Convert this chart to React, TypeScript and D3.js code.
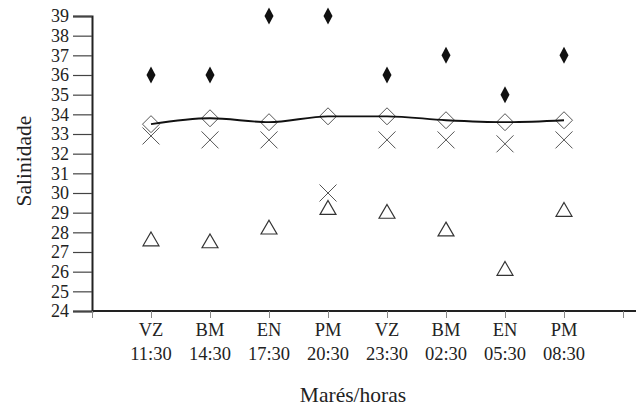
import React, { useEffect, useRef } from 'react';
import * as d3 from 'd3';

const tides = ['VZ', 'BM', 'EN', 'PM', 'VZ', 'BM', 'EN', 'PM'];
const hours = ['11:30', '14:30', '17:30', '20:30', '23:30', '02:30', '05:30', '08:30'];
const maxValues = [36, 36, 39, 39, 36, 37, 35, 37];
const meanValues = [33.5, 33.8, 33.6, 33.9, 33.9, 33.7, 33.6, 33.7];
const crossValues = [32.9, 32.7, 32.7, 30.0, 32.7, 32.7, 32.5, 32.7];
const minValues = [27.6, 27.5, 28.2, 29.2, 29.0, 28.1, 26.1, 29.1];
const yTicks = d3.range(24, 40);

const App = () => {
    const svgRef = useRef<SVGSVGElement>(null);

    useEffect(() => {
        const svg = d3.select(svgRef.current);
        svg.selectAll('*').remove();

        const font = '"Liberation Serif", "Times New Roman", serif';
        const left = 92, top = 16, bottom = 311;

        // slots 0..9, the categories sit on 1..8
        const x = d3.scaleLinear().domain([0, 9]).range([left, left + 59 * 9]);
        const y = d3.scaleLinear().domain([24, 39]).range([bottom, top]);

        // Y axis
        const yAxis = svg.append('g').attr('transform', `translate(${left},0)`)
            .call(d3.axisLeft(y).tickValues(yTicks).tickSize(19).tickPadding(4).tickFormat(d3.format('d')));
        yAxis.select('.domain').attr('stroke', '#222').attr('stroke-width', 2);
        yAxis.selectAll('.tick line').attr('stroke', '#444').attr('stroke-width', 1.2);
        yAxis.selectAll('.tick text').attr('font-family', font).attr('font-size', 18).attr('fill', '#222');

        // X axis
        const xAxis = svg.append('g').attr('transform', `translate(0,${bottom})`)
            .call(d3.axisBottom(x).tickValues(d3.range(0, 10)).tickSize(7).tickFormat(() => ''));
        xAxis.select('.domain').attr('stroke', '#222').attr('stroke-width', 2)
            .attr('d', `M${left},0H636`);
        xAxis.selectAll('.tick line').attr('stroke', '#888').attr('stroke-width', 1);

        const labels = svg.append('g');
        tides.forEach((t, i) => {
            labels.append('text').attr('x', x(i + 1)).attr('y', 336)
                .attr('text-anchor', 'middle').attr('font-family', font).attr('font-size', 18.5)
                .attr('fill', '#222').text(t);
            labels.append('text').attr('x', x(i + 1)).attr('y', 360)
                .attr('text-anchor', 'middle').attr('font-family', font).attr('font-size', 18.5)
                .attr('fill', '#222').text(hours[i]);
        });

        svg.append('text').attr('x', 353).attr('y', 402).attr('text-anchor', 'middle')
            .attr('font-family', font).attr('font-size', 21.5).attr('fill', '#222').text('Marés/horas');

        svg.append('text').attr('transform', `translate(31,161) rotate(-90)`)
            .attr('text-anchor', 'middle').attr('font-family', font).attr('font-size', 21.5)
            .attr('fill', '#222').text('Salinidade');

        // Triangles
        const tri = d3.symbol().type(d3.symbolTriangle).size(110);
        svg.append('g').selectAll('path').data(minValues).enter().append('path')
            .attr('d', tri)
            .attr('transform', (d, i) => `translate(${x(i + 1)},${y(d) + 1})`)
            .attr('fill', 'none').attr('stroke', '#333').attr('stroke-width', 1.2);

        // Crosses
        svg.append('g').selectAll('path').data(crossValues).enter().append('path')
            .attr('d', 'M-8.5,-8.5L8.5,8.5M-8.5,8.5L8.5,-8.5')
            .attr('transform', (d, i) => `translate(${x(i + 1)},${y(d)})`)
            .attr('fill', 'none').attr('stroke', '#555').attr('stroke-width', 1);

        // Open diamonds
        svg.append('g').selectAll('path').data(meanValues).enter().append('path')
            .attr('d', 'M0,-8.5L8.5,0L0,8.5L-8.5,0Z')
            .attr('transform', (d, i) => `translate(${x(i + 1)},${y(d)})`)
            .attr('fill', 'white').attr('stroke', '#555').attr('stroke-width', 1);

        // Mean line
        const line = d3.line<number>().x((d, i) => x(i + 1)).y(d => y(d)).curve(d3.curveMonotoneX);
        svg.append('path').datum(meanValues).attr('d', line)
            .attr('fill', 'none').attr('stroke', '#111').attr('stroke-width', 1.8);

        // Filled diamonds
        svg.append('g').selectAll('path').data(maxValues).enter().append('path')
            .attr('d', 'M0,-8.5L4.5,0L0,8.5L-4.5,0Z')
            .attr('transform', (d, i) => `translate(${x(i + 1)},${y(d)})`)
            .attr('fill', '#111');
    }, []);

    return <svg ref={svgRef} width={636} height={411} style={{ position: 'absolute', left: 0, top: 0 }} />;
};

export default App;
